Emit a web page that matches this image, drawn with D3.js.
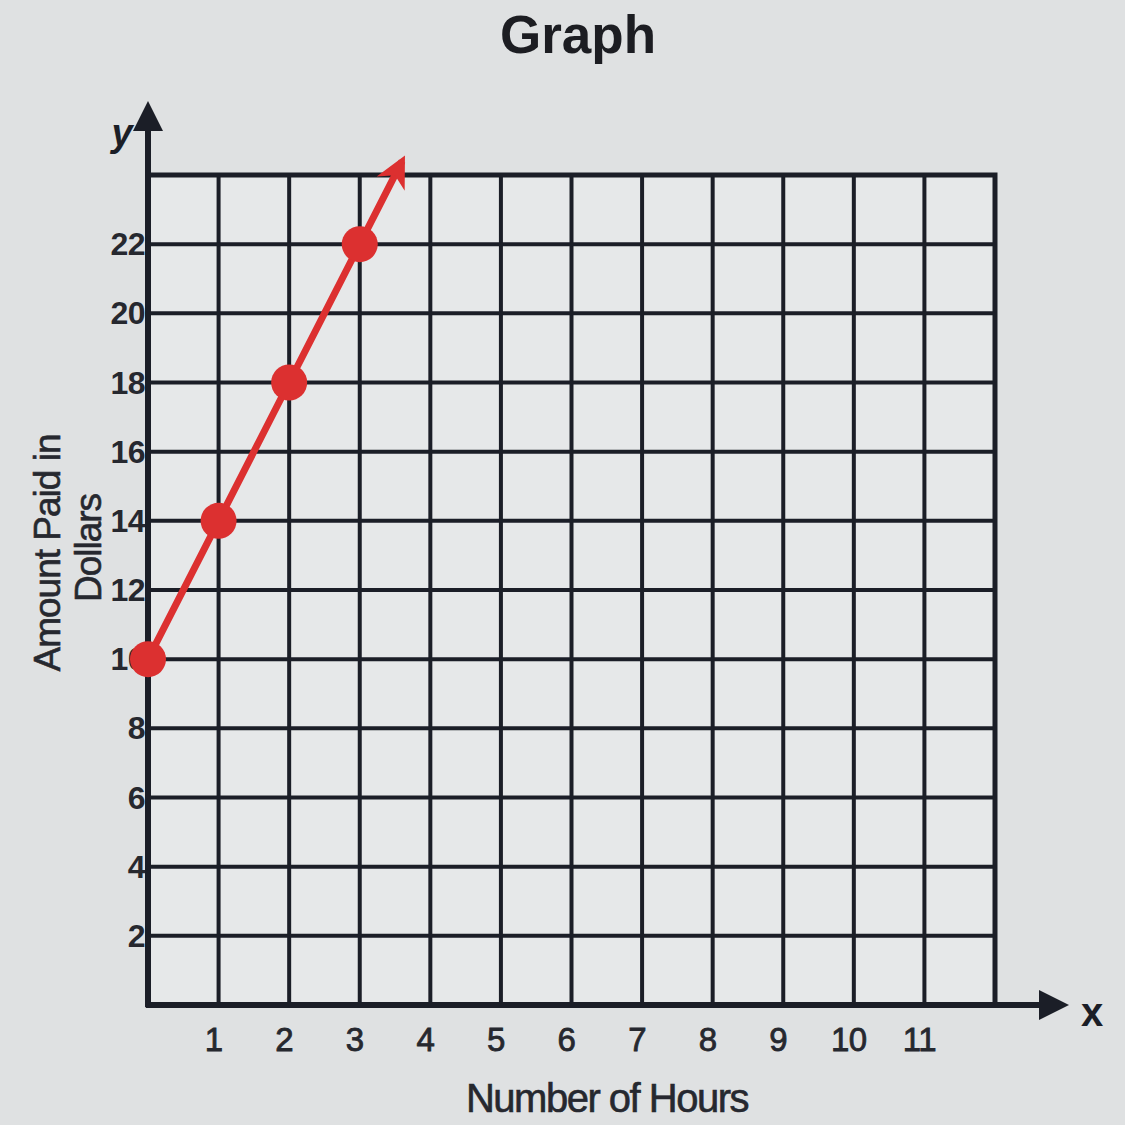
<!DOCTYPE html>
<html><head><meta charset="utf-8">
<script src="https://cdn.jsdelivr.net/npm/d3@7"></script>
<style>
html,body{margin:0;padding:0;background:#dfe1e2;}
svg{display:block;font-family:"Liberation Sans",Arial,sans-serif;}
</style></head>
<body>
<svg id="chart" width="1125" height="1125"></svg>
<script>
const title = "Graph";
const xLabel = "Number of Hours";
const yLabelLines = ["Amount Paid in", "Dollars"];
const hours = [0, 1, 2, 3];
const amount = [10, 14, 18, 22];
const arrowEnd = [3.6, 24.4];
const xTicks = [1,2,3,4,5,6,7,8,9,10,11];
const yTicks = [2,4,6,8,10,12,14,16,18,20,22];
const xGrid = d3.range(0, 13);
const yGrid = d3.range(0, 25, 2);

const svg = d3.select("#chart");
const L = 148, R = 995, T = 175, B = 1005;
const x = d3.scaleLinear().domain([0, 12]).range([L, R]);
const y = d3.scaleLinear().domain([0, 24]).range([B, T]);
const ink = "#1b1e27";
const txt = "#26282f";
const red = "#dc3030";

const defs = svg.append("defs");
defs.append("marker").attr("id","blk").attr("viewBox","0 0 10 10").attr("refX",2).attr("refY",5)
  .attr("markerWidth",5).attr("markerHeight",5).attr("orient","auto")
  .append("path").attr("d","M0,0 L10,5 L0,10 Z").attr("fill",ink);
defs.append("marker").attr("id","redarr").attr("viewBox","0 0 10 10").attr("refX",8).attr("refY",5)
  .attr("markerWidth",4.5).attr("markerHeight",4.5).attr("orient","auto")
  .append("path").attr("d","M0,0 L10,5 L0,10 L3,5 Z").attr("fill",red);

svg.append("rect").attr("x",0).attr("y",0).attr("width",1125).attr("height",1125).attr("fill","#dfe1e2");
svg.append("rect").attr("x",L).attr("y",T).attr("width",R-L).attr("height",B-T).attr("fill","#e6e8e9");

// grid
svg.append("g").selectAll("line").data(xGrid).join("line")
  .attr("x1",d=>x(d)).attr("x2",d=>x(d)).attr("y1",T).attr("y2",B)
  .attr("stroke",ink).attr("stroke-width",4);
svg.append("g").selectAll("line").data(yGrid).join("line")
  .attr("x1",L).attr("x2",R).attr("y1",d=>y(d)).attr("y2",d=>y(d))
  .attr("stroke",ink).attr("stroke-width",4);
svg.append("rect").attr("x",L).attr("y",T).attr("width",R-L).attr("height",B-T)
  .attr("fill","none").attr("stroke",ink).attr("stroke-width",5);

// tick labels (drawn before axis so axis sits on top)
svg.append("g").selectAll("text").data(yTicks).join("text")
  .attr("x",L-3).attr("y",d=>y(d)+11).attr("text-anchor","end")
  .attr("font-size",32).attr("font-weight","bold").attr("letter-spacing",-0.5).attr("fill",txt).text(d=>d);
svg.append("g").selectAll("text").data(xTicks).join("text")
  .attr("x",d=>x(d)-5).attr("y",B+46).attr("text-anchor","middle")
  .attr("font-size",33).attr("letter-spacing",-0.5).attr("fill",txt)
  .attr("stroke",txt).attr("stroke-width",0.8).text(d=>d);

// axes with arrows
svg.append("line").attr("x1",L).attr("y1",B+2).attr("x2",L).attr("y2",125)
  .attr("stroke",ink).attr("stroke-width",6).attr("marker-end","url(#blk)");
svg.append("line").attr("x1",L-2).attr("y1",B).attr("x2",1045).attr("y2",B)
  .attr("stroke",ink).attr("stroke-width",6).attr("marker-end","url(#blk)");

svg.append("text").attr("x",122).attr("y",146).attr("text-anchor","middle")
  .attr("font-size",38).attr("font-weight","bold").attr("font-style","italic").attr("fill",ink).text("y");
svg.append("text").attr("x",1092).attr("y",1026).attr("text-anchor","middle")
  .attr("font-size",40).attr("font-weight","bold").attr("fill",ink).text("x");

// titles
svg.append("text").attr("x",578).attr("y",53).attr("text-anchor","middle")
  .attr("font-size",53).attr("font-weight","bold").attr("fill","#1c1d22").text(title);
svg.append("text").attr("x",607).attr("y",1112).attr("text-anchor","middle")
  .attr("font-size",40).attr("fill",txt).attr("stroke",txt).attr("stroke-width",0.6)
  .attr("letter-spacing",-1.5).text(xLabel);
svg.append("text").attr("transform","translate(60,553) rotate(-90)").attr("text-anchor","middle")
  .attr("font-size",37).attr("fill",txt).attr("stroke",txt).attr("stroke-width",0.6)
  .attr("letter-spacing",-1).text(yLabelLines[0]);
svg.append("text").attr("transform","translate(101,548) rotate(-90)").attr("text-anchor","middle")
  .attr("font-size",37).attr("fill",txt).attr("stroke",txt).attr("stroke-width",0.6)
  .attr("letter-spacing",-1).text(yLabelLines[1]);

// red line with arrow
const pts = hours.map((h,i)=>[h, amount[i]]);
const lineGen = d3.line().x(d=>x(d[0])).y(d=>y(d[1]));
svg.append("path").datum(pts.concat([arrowEnd])).attr("d",lineGen)
  .attr("fill","none").attr("stroke",red).attr("stroke-width",7).attr("marker-end","url(#redarr)");
svg.append("g").selectAll("circle").data(pts).join("circle")
  .attr("cx",d=>x(d[0])).attr("cy",d=>y(d[1])).attr("r",18).attr("fill",red);
</script>
</body></html>
